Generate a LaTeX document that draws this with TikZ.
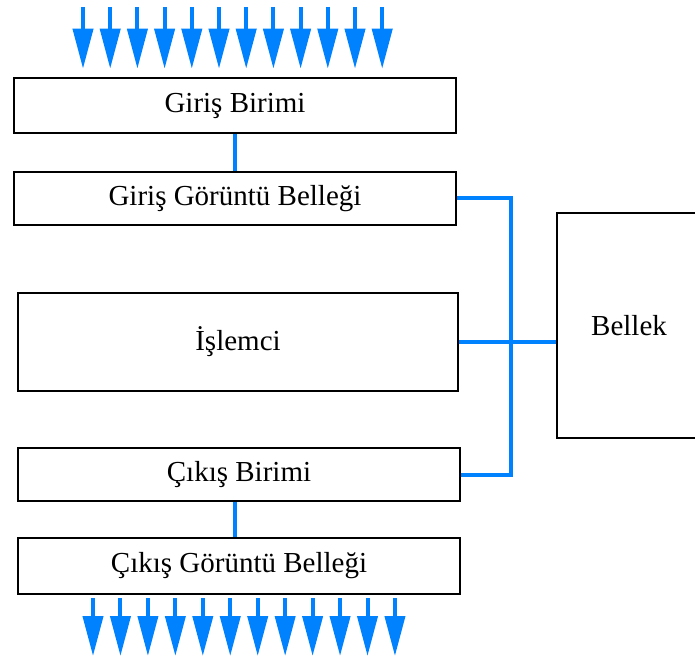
\documentclass[tikz,border=0pt]{standalone}
\usepackage{fontspec}
\setmainfont{Liberation Serif}
\usepackage{xcolor}
\usetikzlibrary{arrows.meta}
\definecolor{busblue}{RGB}{0,130,255}

\tikzset{
  unit/.style={draw=black,line width=1.3pt,fill=white,inner sep=0pt},
  bus/.style={draw=busblue,line width=2pt},
  feed/.style={draw=busblue,line width=2pt,-{Triangle[length=20pt,width=10pt]}}
}

\begin{document}
\begin{tikzpicture}[x=0.5pt,y=-0.5pt,font=\fontsize{14.5}{17}\selectfont]
  \useasboundingbox (0,0) rectangle (695,662);
  % units on the left, memory on the right
  \node[unit,minimum width=221pt,minimum height=27.5pt] (giris)   at (235,105.5) {Giriş Birimi};
  \node[unit,minimum width=221pt,minimum height=26.5pt] (girisGB) at (235,198.5) {Giriş Görüntü Belleği};
  \node[unit,minimum width=220pt,minimum height=49pt]   (islemci) at (238,342)   {İşlemci};
  \node[unit,minimum width=221pt,minimum height=26.5pt] (cikis)   at (239,474.5) {Çıkış Birimi};
  \node[unit,minimum width=221pt,minimum height=28pt]   (cikisGB) at (239,566)   {Çıkış Görüntü Belleği};
  \node[unit,minimum width=72pt,minimum height=112.5pt] (bellek)  at (629,325.5) {Bellek};
  % links
  \draw[bus] (giris) -- (girisGB);
  \draw[bus] (cikis.south -| giris.south) -- (cikisGB.north -| giris.south);
  \draw[bus] (girisGB.east) -- ++(54,0) coordinate (busr) |- (cikis.east);
  \draw[bus] (islemci.east) -- (islemci.east -| bellek.west);
  % incoming and outgoing streams
  \foreach \i in {0,...,11}{
    \coordinate (in\i) at ({83+27.2*\i},7);
    \draw[feed,shorten >=4pt] (in\i) -- (in\i |- giris.north);
    \coordinate (out\i) at ({93+27.45*\i},656);
    \draw[feed] (cikisGB.south -| out\i) ++(0,3) -- (out\i);
  }
\end{tikzpicture}
\end{document}
